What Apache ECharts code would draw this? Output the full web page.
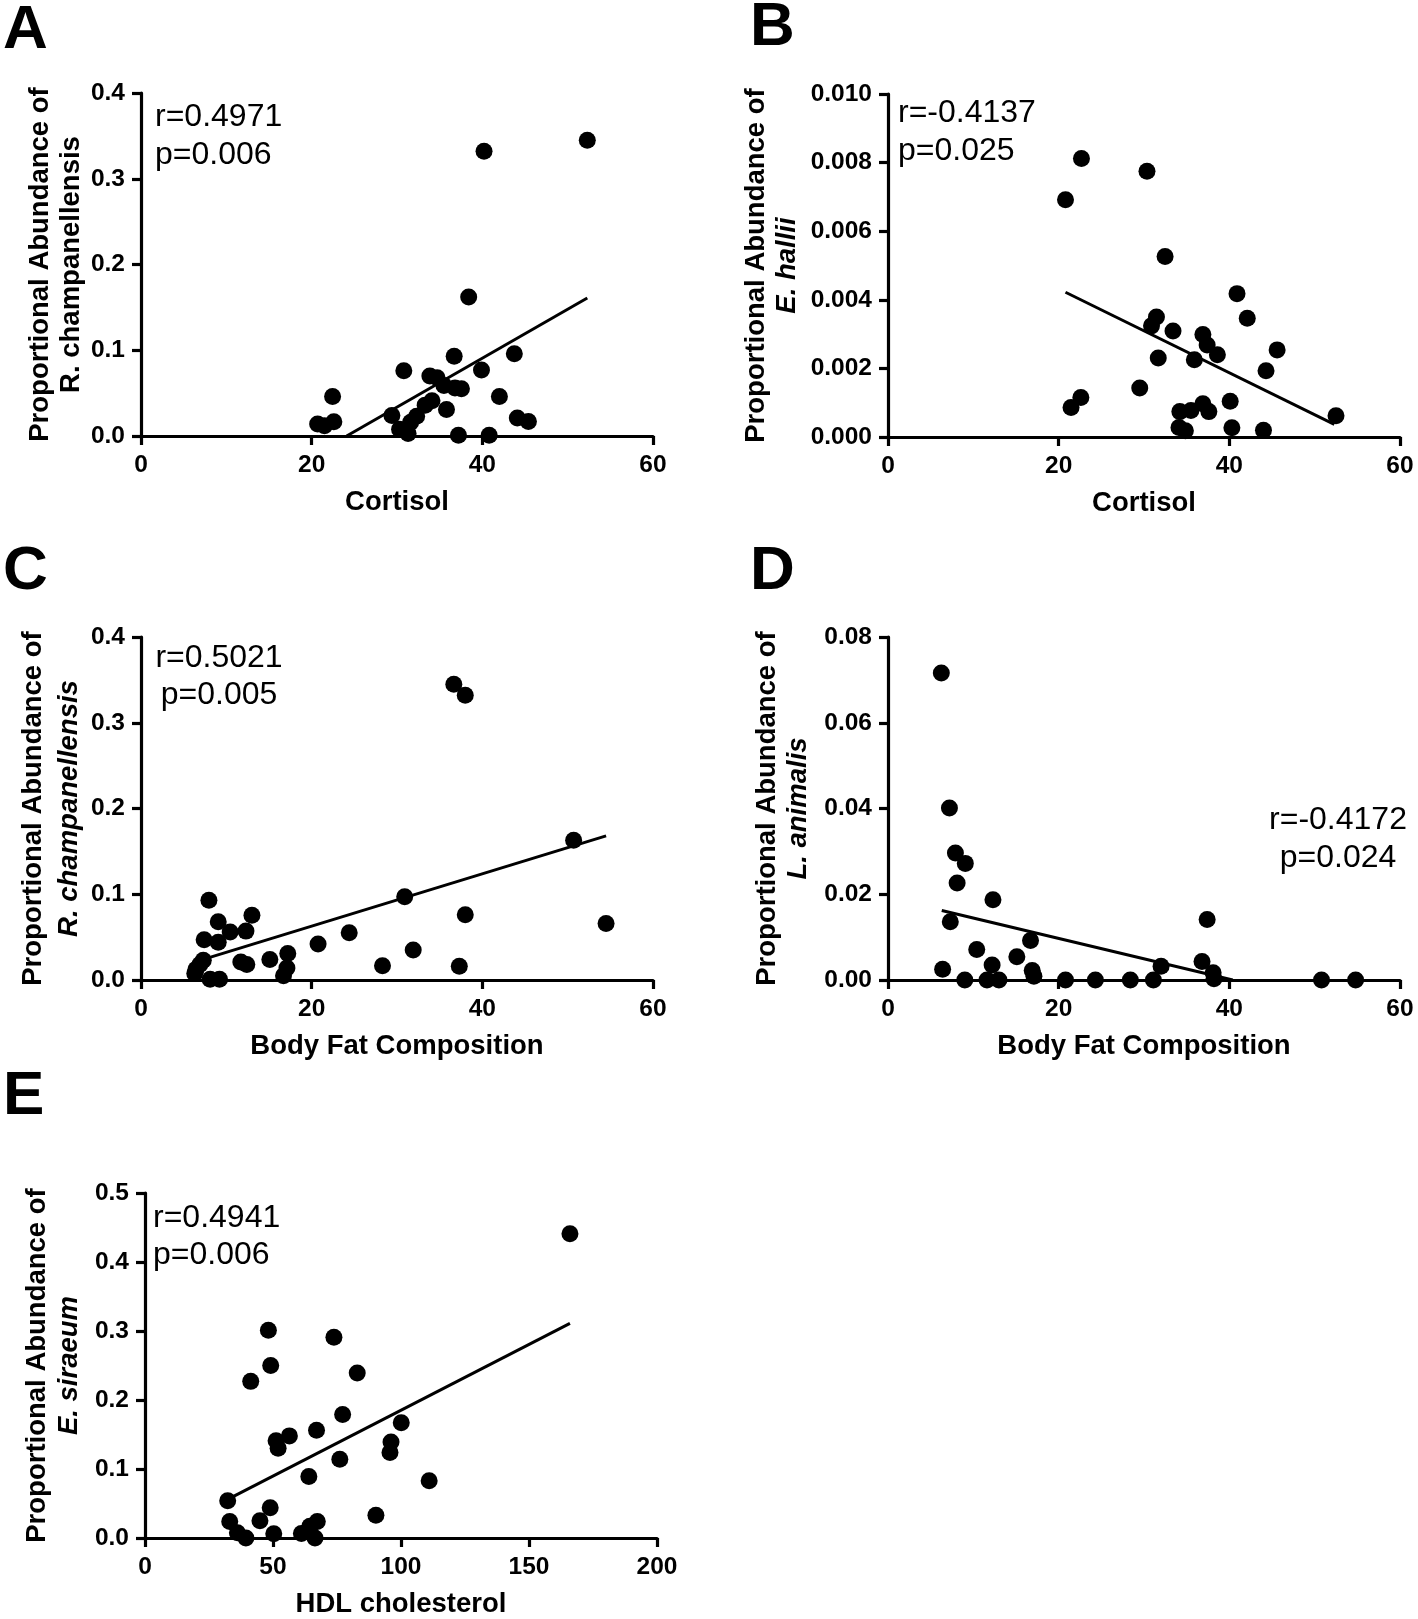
<!DOCTYPE html>
<html>
<head>
<meta charset="utf-8">
<script src="https://cdn.jsdelivr.net/npm/echarts@6/dist/echarts.min.js"></script>
<style>
  html, body { margin: 0; padding: 0; background: #fff; }
  #chart { width: 1418px; height: 1619px; }
</style>
</head>
<body>
<div id="chart"></div>
<script>
// ---------- DATA ----------
// Panel A: Cortisol vs R. champanellensis
const xA = [52.3, 40.2, 38.4, 36.7, 43.75, 30.8, 39.9, 33.85, 34.7, 35.5, 36.8, 37.55, 22.45, 42.0, 34.1, 33.3, 35.8, 29.4, 32.3, 31.6, 44.1, 45.4, 20.7, 21.5, 22.6, 30.3, 31.3, 37.2, 40.8];
const yA = [0.345, 0.332, 0.162, 0.093, 0.096, 0.076, 0.077, 0.070, 0.068, 0.059, 0.056, 0.055, 0.046, 0.046, 0.041, 0.036, 0.031, 0.024, 0.023, 0.016, 0.021, 0.017, 0.014, 0.012, 0.0165, 0.008, 0.003, 0.001, 0.001];
const fitAx = [24.1, 52.3];
const fitAy = [0, 0.161];

// Panel B: Cortisol vs E. hallii
const xB = [22.67, 20.8, 30.35, 32.47, 40.9, 42.1, 31.46, 30.88, 33.4, 36.9, 37.4, 45.6, 38.6, 31.67, 35.9, 44.3, 29.5, 22.6, 21.45, 40.1, 36.9, 35.5, 34.2, 37.6, 52.5, 34.1, 34.85, 40.3, 44.0];
const yB = [0.00812, 0.00692, 0.00775, 0.00526, 0.00418, 0.00346, 0.00350, 0.00324, 0.00309, 0.00299, 0.00268, 0.00254, 0.00240, 0.00230, 0.00225, 0.00193, 0.00143, 0.00115, 0.00086, 0.00104, 0.00097, 0.00077, 0.00074, 0.00074, 0.00062, 0.00028, 0.00018, 0.00027, 0.00020];
const fitBx = [20.8, 52.3];
const fitBy = [0.00422, 0.00037];

// Panel C: Body fat vs R. champanellensis
const xC = [36.66, 38.0, 50.7, 30.9, 7.96, 38.0, 13.0, 9.05, 54.5, 10.45, 12.3, 24.4, 7.4, 9.05, 20.75, 31.9, 17.2, 15.1, 11.7, 12.4, 7.3, 6.9, 17.1, 28.3, 37.3, 6.45, 6.3, 16.7, 8.1, 9.2];
const yC = [0.345, 0.332, 0.163, 0.097, 0.093, 0.076, 0.0755, 0.068, 0.066, 0.056, 0.057, 0.055, 0.047, 0.044, 0.042, 0.035, 0.031, 0.024, 0.021, 0.018, 0.023, 0.018, 0.014, 0.0165, 0.016, 0.0125, 0.0075, 0.005, 0.001, 0.001];
const fitCx = [7.3, 54.5];
const fitCy = [0.024, 0.168];

// Panel D: Body fat vs L. animalis
const xD = [6.25, 7.2, 7.9, 9.06, 8.1, 12.3, 37.4, 7.3, 16.7, 10.4, 15.1, 36.8, 12.2, 32.0, 6.4, 16.9, 38.1, 17.1, 38.2, 9.0, 11.6, 13.0, 20.8, 24.3, 28.4, 31.1, 50.8, 54.8];
const yD = [0.0716, 0.0401, 0.0296, 0.0272, 0.0226, 0.0187, 0.0141, 0.0136, 0.0092, 0.0071, 0.0054, 0.0043, 0.0035, 0.0032, 0.0025, 0.0022, 0.0017, 0.0009, 0.0003, 0, 0, 0, 0, 0, 0, 0, 0, 0];
const fitDx = [6.3, 40.4];
const fitDy = [0.0162, 0];

// Panel E: HDL cholesterol vs E. siraeum
const xE = [166.0, 48.2, 73.8, 49.1, 82.9, 41.3, 77.2, 100.1, 67.0, 56.4, 51.2, 96.1, 52.0, 95.7, 76.1, 64.0, 111.0, 32.3, 48.9, 90.2, 33.1, 44.9, 67.3, 64.4, 36.1, 50.3, 61.1, 39.4, 66.4];
const yE = [0.441, 0.301, 0.291, 0.250, 0.239, 0.227, 0.179, 0.167, 0.156, 0.148, 0.141, 0.139, 0.130, 0.124, 0.114, 0.089, 0.083, 0.054, 0.044, 0.033, 0.024, 0.025, 0.024, 0.017, 0.0075, 0.006, 0.0065, 0.0, 0.0];
const fitEx = [32.3, 166.0];
const fitEy = [0.056, 0.311];

// Axis tick settings
const xTicksA = { min: 0, max: 60, interval: 20 };
const xTicksE = { min: 0, max: 200, interval: 50 };
const yTicksA = { min: 0, max: 0.4, interval: 0.1, dec: 1 };
const yTicksB = { min: 0, max: 0.010, interval: 0.002, dec: 3 };
const yTicksD = { min: 0, max: 0.08, interval: 0.02, dec: 2 };
const yTicksE = { min: 0, max: 0.5, interval: 0.1, dec: 1 };

// Texts
const panelLetters = ['A', 'B', 'C', 'D', 'E'];
const xNames = ['Cortisol', 'Cortisol', 'Body Fat Composition', 'Body Fat Composition', 'HDL cholesterol'];
const species = ['R. champanellensis', 'E. hallii', 'R. champanellensis', 'L. animalis', 'E. siraeum'];
const speciesItalic = [false, true, true, true, true];
const rTexts = ['r=0.4971', 'r=-0.4137', 'r=0.5021', 'r=-0.4172', 'r=0.4941'];
const pTexts = ['p=0.006', 'p=0.025', 'p=0.005', 'p=0.024', 'p=0.006'];

// ---------- LAYOUT ----------
const FONT = "'Liberation Sans', Arial, Helvetica, sans-serif";
const grids = [
  { left: 141, top: 93, width: 512, height: 343 },
  { left: 888, top: 94, width: 512, height: 343 },
  { left: 141, top: 637, width: 512, height: 343 },
  { left: 888, top: 637, width: 512, height: 343 },
  { left: 145, top: 1193, width: 512, height: 348 }
];
const xTickSets = [xTicksA, xTicksA, xTicksA, xTicksA, xTicksE];
const yTickSets = [yTicksA, yTicksB, yTicksA, yTicksD, yTicksE];
const yNameGaps = [50, 85, 53, 74, 60];
const yNameLH = [31, 31, 36, 31, 32];

const zip = (xs, ys) => xs.map((x, i) => [x, ys[i]]);
const pts = [zip(xA, yA), zip(xB, yB), zip(xC, yC), zip(xD, yD), zip(xE, yE)];
const fits = [zip(fitAx, fitAy), zip(fitBx, fitBy), zip(fitCx, fitCy), zip(fitDx, fitDy), zip(fitEx, fitEy)];

const axisLine = { show: true, onZero: false, lineStyle: { color: '#000', width: 3.2 } };
const axisTick = { show: true, inside: false, length: 9, lineStyle: { color: '#000', width: 3.2 } };

const xAxes = xNames.map((nm, i) => ({
  type: 'value', gridIndex: i,
  min: xTickSets[i].min, max: xTickSets[i].max, interval: xTickSets[i].interval,
  name: nm, nameLocation: 'middle', nameGap: 52,
  nameTextStyle: { fontFamily: FONT, fontWeight: 'bold', fontSize: 27.5, color: '#000' },
  axisLine, axisTick, splitLine: { show: false },
  axisLabel: { margin: 17, fontFamily: FONT, fontWeight: 'bold', fontSize: 24.5, color: '#000' }
}));

const yAxes = species.map((sp, i) => ({
  type: 'value', gridIndex: i,
  min: yTickSets[i].min, max: yTickSets[i].max, interval: yTickSets[i].interval,
  name: '{b|Proportional Abundance of}\n{' + (speciesItalic[i] ? 'i' : 'b') + '|' + sp + '}',
  nameLocation: 'middle', nameGap: yNameGaps[i], nameRotate: 90,
  nameTextStyle: {
    fontFamily: FONT, fontWeight: 'bold', fontSize: 27.5, color: '#000', lineHeight: yNameLH[i],
    rich: {
      b: { fontFamily: FONT, fontWeight: 'bold', fontSize: 27.5, lineHeight: yNameLH[i], color: '#000' },
      i: { fontFamily: FONT, fontWeight: 'bold', fontStyle: 'italic', fontSize: 27.5, lineHeight: yNameLH[i], color: '#000' }
    }
  },
  axisLine, axisTick, splitLine: { show: false },
  axisLabel: {
    margin: 16, fontFamily: FONT, fontWeight: 'bold', fontSize: 24.5, color: '#000',
    formatter: v => v.toFixed(yTickSets[i].dec)
  }
}));

const series = [];
pts.forEach((d, i) => {
  series.push({
    type: 'scatter', xAxisIndex: i, yAxisIndex: i, data: d,
    symbol: 'circle', symbolSize: 17, itemStyle: { color: '#000', opacity: 1 }, z: 3
  });
  series.push({
    type: 'line', xAxisIndex: i, yAxisIndex: i, data: fits[i],
    symbol: 'none', lineStyle: { color: '#000', width: 3 }, z: 4, silent: true
  });
});

// Panel letters & annotations
const letterPos = [[3, 8], [750, 5], [3, 549], [750, 549], [3, 1074]];
const annot = [
  { x: 155, yr: 117, yp: 155, align: 'left' },
  { x: 898, yr: 113, yp: 151, align: 'left' },
  { x: 219, yr: 658, yp: 695, align: 'center' },
  { x: 1338, yr: 820, yp: 858, align: 'center' },
  { x: 153, yr: 1218, yp: 1255, align: 'left' }
];
const graphic = [];
panelLetters.forEach((L, i) => {
  graphic.push({
    type: 'text', left: letterPos[i][0], top: letterPos[i][1] - 8,
    style: { text: L, font: 'bold 62px ' + FONT, fill: '#000' }
  });
});
annot.forEach((a, i) => {
  graphic.push({ type: 'text', x: a.x, y: a.yr,
    style: { text: rTexts[i], font: '32px ' + FONT, fill: '#000', textAlign: a.align, textVerticalAlign: 'middle' } });
  graphic.push({ type: 'text', x: a.x, y: a.yp,
    style: { text: pTexts[i], font: '32px ' + FONT, fill: '#000', textAlign: a.align, textVerticalAlign: 'middle' } });
});

const chart = echarts.init(document.getElementById('chart'), null, { renderer: 'canvas' });
chart.setOption({
  animation: false,
  backgroundColor: '#fff',
  grid: grids,
  xAxis: xAxes,
  yAxis: yAxes,
  series,
  graphic
});
</script>
</body>
</html>
